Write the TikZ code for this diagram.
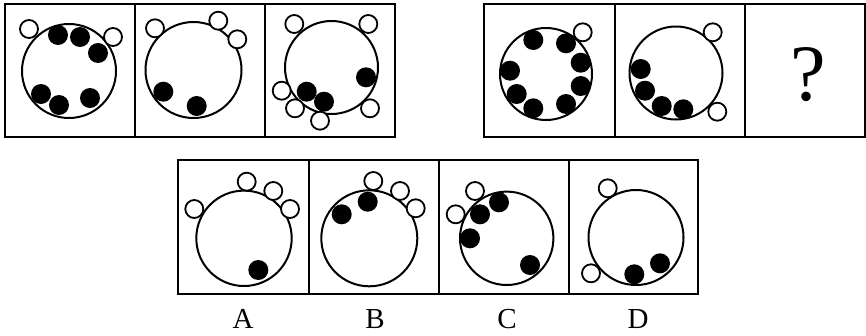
\documentclass[tikz,border=0pt]{standalone}
\usepackage{fontspec}
\setmainfont{Liberation Serif}
\begin{document}
\begin{tikzpicture}[x=1pt,y=-1pt,
  cellbox/.style={draw=black,line width=2pt},
  bigring/.style={draw=black,line width=2pt},
  blackdot/.style={fill=black},
  whitedot/.style={draw=black,fill=white,line width=1.8pt},
  lbl/.style={font=\fontsize{29}{30}\selectfont,inner sep=0pt}]
\useasboundingbox (0,0) rectangle (866,335);
% frames
\draw[cellbox] (5,4) rectangle (395,137);
\draw[cellbox] (135,4) -- (135,137) (265,4) -- (265,137);
\draw[cellbox] (484,4) rectangle (865,137);
\draw[cellbox] (615,4) -- (615,137) (745,4) -- (745,137);
\draw[cellbox] (178,160) rectangle (698,294);
\draw[cellbox] (308.5,160) -- (308.5,294) (439,160) -- (439,294) (569,160) -- (569,294);
% panel 1
\draw[bigring] (69,71) circle (47);
\foreach \p in {(58,35),(80,37),(98,53),(41,94),(59,105),(90,98)} \fill[blackdot] \p circle (10);
\foreach \p in {(29,29),(113,37)} \draw[whitedot] \p circle (9);
% panel 2
\draw[bigring] (193.5,70) circle (48);
\foreach \p in {(163.3,91.7),(196.7,106)} \fill[blackdot] \p circle (10);
\foreach \p in {(155,28.3),(218.3,20.7),(237.3,39.3)} \draw[whitedot] \p circle (9);
% panel 3
\draw[bigring] (331.5,67.5) circle (46.5);
\foreach \p in {(281.7,90.7),(295,108.3),(320,120.7),(294.3,24),(368.3,24),(370,108.3)} \draw[whitedot] \p circle (9);
\foreach \p in {(366,77.3),(306.7,91.7),(324,101.7)} \fill[blackdot] \p circle (10);
% panel 4
\draw[bigring] (546,74) circle (46);
\foreach \p in {(533.3,40),(566,43.3),(580.7,62.7),(580.7,86),(566,104),(533.3,108.3),(516.7,94),(510,70.7)} \fill[blackdot] \p circle (10);
\draw[whitedot] (582.7,32.3) circle (9);
% panel 5
\draw[bigring] (676,73) circle (46.5);
\foreach \p in {(640.7,69),(645,90.7),(661.7,106),(683.3,109.3)} \fill[blackdot] \p circle (10);
\foreach \p in {(712.7,32.3),(717.3,111.7)} \draw[whitedot] \p circle (9);
% question mark
\node[inner sep=0pt,font=\fontsize{80}{80}\selectfont] (q) at (808,75) {?};
% option A
\draw[bigring] (244,238.3) circle (47.7);
\fill[blackdot] (258.3,270) circle (10);
\foreach \p in {(194.3,209),(246.7,181.7),(273.3,191),(290,209)} \draw[whitedot] \p circle (9);
% option B
\draw[bigring] (369.3,238.3) circle (48);
\foreach \p in {(373.3,181),(400,191),(415.7,208.3)} \draw[whitedot] \p circle (9);
\foreach \p in {(341.7,214.3),(367.7,201.7)} \fill[blackdot] \p circle (10);
% option C
\draw[bigring] (506.7,238.3) circle (46.7);
\foreach \p in {(475,191),(455.7,214.3)} \draw[whitedot] \p circle (9);
\foreach \p in {(499,202.3),(480,214.3),(470,238.3),(530,265)} \fill[blackdot] \p circle (10);
% option D
\draw[bigring] (636,237.5) circle (47.5);
\foreach \p in {(634.3,274.3),(660,263.3)} \fill[blackdot] \p circle (10);
\foreach \p in {(607.7,188.3),(591,273.3)} \draw[whitedot] \p circle (9);
% labels
\node[lbl] (la) at (243,319) {A};
\node[lbl] (lb) at (375,319) {B};
\node[lbl] (lc) at (507,319) {C};
\node[lbl] (ld) at (638,319) {D};
\end{tikzpicture}
\end{document}
